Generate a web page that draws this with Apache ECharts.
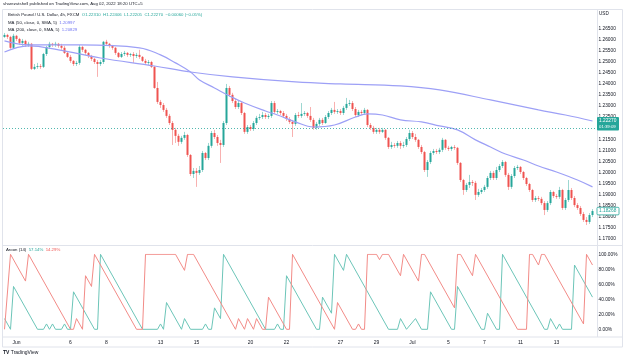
<!DOCTYPE html>
<html><head><meta charset="utf-8">
<script src="https://cdn.jsdelivr.net/npm/echarts@6/dist/echarts.min.js"></script>
<style>html,body{margin:0;padding:0;background:#fff}#c{width:624px;height:360px}</style>
</head><body><div id="c"></div>
<script>
// ---- data (GBPUSD 4h) ----
const open = [1.2611,1.2620,1.2611,1.2562,1.2616,1.2602,1.2584,1.2593,1.2575,1.2580,
1.2467,1.2476,1.2480,1.2476,1.2534,1.2566,1.2580,1.2575,1.2580,1.2571,
1.2562,1.2539,1.2521,1.2503,1.2489,1.2494,1.2566,1.2553,1.2539,1.2525,
1.2512,1.2498,1.2489,1.2498,1.2589,1.2580,1.2571,1.2562,1.2539,1.2521,
1.2534,1.2539,1.2530,1.2534,1.2525,1.2530,1.2521,1.2503,1.2494,1.2498,
1.2476,1.2381,1.2318,1.2304,1.2282,1.2255,1.2223,1.2192,1.2165,1.2138,
1.2156,1.2169,1.2079,1.1993,1.2007,1.1998,1.2011,1.2088,1.2065,1.2120,
1.2178,1.2160,1.2133,1.2124,1.2223,1.2381,1.2350,1.2322,1.2295,1.2313,
1.2268,1.2183,1.2205,1.2196,1.2223,1.2246,1.2250,1.2259,1.2250,1.2255,
1.2313,1.2273,1.2277,1.2268,1.2255,1.2241,1.2228,1.2219,1.2259,1.2255,
1.2264,1.2268,1.2255,1.2237,1.2201,1.2219,1.2237,1.2223,1.2250,1.2268,
1.2282,1.2273,1.2277,1.2268,1.2291,1.2309,1.2313,1.2286,1.2259,1.2273,
1.2268,1.2282,1.2214,1.2201,1.2183,1.2192,1.2183,1.2192,1.2156,1.2115,
1.2124,1.2120,1.2133,1.2120,1.2124,1.2151,1.2178,1.2160,1.2147,1.2115,
1.2092,1.2011,1.2047,1.2088,1.2097,1.2092,1.2102,1.2147,1.2111,1.2106,
1.2115,1.2111,1.2043,1.1966,1.1921,1.1944,1.1957,1.1953,1.1899,1.1912,
1.1921,1.1935,1.1975,1.1998,1.1975,1.2011,1.2029,1.2047,1.1989,1.1935,
1.1984,1.2020,1.2025,1.2002,1.1975,1.1948,1.1921,1.1876,1.1885,1.1881,
1.1862,1.1831,1.1862,1.1912,1.1894,1.1890,1.1921,1.1840,1.1876,1.1921,
1.1885,1.1853,1.1840,1.1813,1.1786,1.1777,1.1808];
const close = [1.2620,1.2611,1.2562,1.2616,1.2602,1.2584,1.2593,1.2575,1.2580,1.2467,
1.2476,1.2480,1.2476,1.2534,1.2566,1.2580,1.2575,1.2580,1.2571,1.2562,
1.2539,1.2521,1.2503,1.2489,1.2494,1.2566,1.2553,1.2539,1.2525,1.2512,
1.2498,1.2489,1.2498,1.2589,1.2580,1.2571,1.2562,1.2539,1.2521,1.2534,
1.2539,1.2530,1.2534,1.2525,1.2530,1.2521,1.2503,1.2494,1.2498,1.2476,
1.2381,1.2318,1.2304,1.2282,1.2255,1.2223,1.2192,1.2165,1.2138,1.2156,
1.2169,1.2079,1.1993,1.2007,1.1998,1.2011,1.2088,1.2065,1.2120,1.2178,
1.2160,1.2133,1.2124,1.2223,1.2381,1.2350,1.2322,1.2295,1.2313,1.2268,
1.2183,1.2205,1.2196,1.2223,1.2246,1.2250,1.2259,1.2250,1.2255,1.2313,
1.2273,1.2277,1.2268,1.2255,1.2241,1.2228,1.2219,1.2259,1.2255,1.2264,
1.2268,1.2255,1.2237,1.2201,1.2219,1.2237,1.2223,1.2250,1.2268,1.2282,
1.2273,1.2277,1.2268,1.2291,1.2309,1.2313,1.2286,1.2259,1.2273,1.2268,
1.2282,1.2214,1.2201,1.2183,1.2192,1.2183,1.2192,1.2156,1.2115,1.2124,
1.2120,1.2133,1.2120,1.2124,1.2151,1.2178,1.2160,1.2147,1.2115,1.2092,
1.2011,1.2047,1.2088,1.2097,1.2092,1.2102,1.2147,1.2111,1.2106,1.2115,
1.2111,1.2043,1.1966,1.1921,1.1944,1.1957,1.1953,1.1899,1.1912,1.1921,
1.1935,1.1975,1.1998,1.1975,1.2011,1.2029,1.2047,1.1989,1.1935,1.1984,
1.2020,1.2025,1.2002,1.1975,1.1948,1.1921,1.1876,1.1885,1.1881,1.1862,
1.1831,1.1862,1.1912,1.1894,1.1890,1.1921,1.1840,1.1876,1.1921,1.1885,
1.1853,1.1840,1.1813,1.1786,1.1777,1.1808,1.1826];
const high = [1.2629,1.2625,1.2616,1.2625,1.2620,1.2607,1.2602,1.2598,1.2589,1.2584,
1.2489,1.2494,1.2489,1.2539,1.2571,1.2589,1.2584,1.2589,1.2584,1.2580,
1.2571,1.2543,1.2530,1.2507,1.2503,1.2575,1.2571,1.2557,1.2543,1.2530,
1.2516,1.2507,1.2507,1.2593,1.2598,1.2584,1.2575,1.2566,1.2543,1.2543,
1.2548,1.2543,1.2539,1.2543,1.2539,1.2553,1.2525,1.2512,1.2507,1.2503,
1.2480,1.2408,1.2327,1.2313,1.2291,1.2264,1.2232,1.2201,1.2174,1.2165,
1.2183,1.2174,1.2083,1.2020,1.2020,1.2029,1.2097,1.2092,1.2133,1.2187,
1.2192,1.2169,1.2147,1.2232,1.2399,1.2390,1.2359,1.2332,1.2322,1.2318,
1.2273,1.2214,1.2214,1.2232,1.2255,1.2264,1.2273,1.2268,1.2264,1.2322,
1.2322,1.2286,1.2282,1.2277,1.2264,1.2250,1.2237,1.2268,1.2273,1.2313,
1.2277,1.2273,1.2295,1.2246,1.2228,1.2246,1.2246,1.2259,1.2277,1.2291,
1.2318,1.2286,1.2286,1.2300,1.2336,1.2327,1.2322,1.2295,1.2282,1.2282,
1.2291,1.2286,1.2223,1.2210,1.2201,1.2201,1.2201,1.2196,1.2160,1.2138,
1.2133,1.2142,1.2142,1.2138,1.2160,1.2192,1.2187,1.2174,1.2151,1.2124,
1.2097,1.2056,1.2097,1.2106,1.2106,1.2111,1.2156,1.2151,1.2120,1.2120,
1.2124,1.2115,1.2047,1.1971,1.1953,1.1989,1.1966,1.1962,1.1926,1.1930,
1.1944,1.1984,1.2007,1.2007,1.2025,1.2038,1.2056,1.2052,1.1998,1.1993,
1.2029,1.2034,1.2029,1.2007,1.1980,1.1953,1.1926,1.1894,1.1894,1.1890,
1.1871,1.1871,1.1921,1.1917,1.1903,1.1935,1.1926,1.1885,1.1966,1.1930,
1.1894,1.1862,1.1849,1.1822,1.1799,1.1817,1.1835];
const low = [1.2607,1.2602,1.2557,1.2557,1.2593,1.2575,1.2571,1.2566,1.2566,1.2462,
1.2462,1.2467,1.2467,1.2471,1.2525,1.2557,1.2566,1.2566,1.2562,1.2553,
1.2534,1.2516,1.2494,1.2480,1.2480,1.2485,1.2543,1.2530,1.2516,1.2503,
1.2489,1.2431,1.2480,1.2489,1.2575,1.2562,1.2553,1.2530,1.2516,1.2516,
1.2525,1.2521,1.2521,1.2494,1.2516,1.2512,1.2498,1.2485,1.2485,1.2471,
1.2377,1.2309,1.2291,1.2273,1.2246,1.2214,1.2124,1.2133,1.2120,1.2129,
1.2147,1.2070,1.1984,1.1975,1.1935,1.1989,1.2002,1.2056,1.2056,1.2111,
1.2151,1.2120,1.2043,1.2115,1.2214,1.2341,1.2313,1.2286,1.2286,1.2259,
1.2174,1.2174,1.2187,1.2187,1.2214,1.2237,1.2241,1.2241,1.2241,1.2246,
1.2264,1.2264,1.2259,1.2246,1.2232,1.2219,1.2160,1.2210,1.2246,1.2246,
1.2255,1.2246,1.2228,1.2192,1.2192,1.2210,1.2214,1.2219,1.2241,1.2259,
1.2264,1.2264,1.2259,1.2259,1.2282,1.2300,1.2277,1.2250,1.2250,1.2259,
1.2259,1.2205,1.2192,1.2174,1.2174,1.2174,1.2178,1.2147,1.2106,1.2106,
1.2111,1.2111,1.2106,1.2111,1.2115,1.2142,1.2151,1.2138,1.2106,1.2083,
1.2002,1.1980,1.2038,1.2079,1.2083,1.2083,1.2092,1.2102,1.2097,1.2097,
1.2102,1.2034,1.1957,1.1899,1.1912,1.1930,1.1939,1.1876,1.1890,1.1903,
1.1912,1.1926,1.1966,1.1966,1.1966,1.2002,1.2020,1.1980,1.1921,1.1926,
1.1975,1.2011,1.1993,1.1966,1.1939,1.1912,1.1867,1.1867,1.1871,1.1853,
1.1808,1.1822,1.1853,1.1885,1.1881,1.1881,1.1831,1.1831,1.1867,1.1876,
1.1844,1.1831,1.1804,1.1777,1.1763,1.1768,1.1799];

// moving averages (bar index, value)
const ma50Pts = [[0,1.2593],[8,1.2575],[25,1.2575],[45,1.2562],[52,1.2530],[57,1.2494],[62,1.2453],[65,1.2417],[70,1.2381],[75,1.2345],[80,1.2313],[87,1.2277],[91,1.2259],[97,1.2228],[103,1.2205],[110,1.2214],[117,1.2250],[121,1.2264],[126,1.2259],[132,1.2237],[139,1.2228],[145,1.2210],[151,1.2192],[157,1.2147],[162,1.2115],[167,1.2083],[173,1.2056],[178,1.2029],[184,1.2002],[191,1.1966],[196,1.1935]];
const ma200Pts = [[0,1.2543],[8,1.2571],[18,1.2553],[32,1.2516],[50,1.2480],[62,1.2453],[76,1.2431],[97,1.2408],[112,1.2399],[132,1.2390],[145,1.2372],[162,1.2327],[178,1.2282],[187,1.2259],[196,1.2232]];

// Aroon (14) vertices (bar index, %)
const aroonUpPts = [[0,14.29],[2,0],[3,57.14],[11,0],[13,0],[14,7.14],[15,0],[16,7.14],[17,0],[19,0],[20,7.14],[21,0],[22,0],[23,50],[30,0],[31,0],[32,100],[46,0],[51,0],[52,7.14],[53,0],[54,35.71],[59,0],[60,14.29],[62,0],[66,0],[67,7.14],[68,0],[69,0],[70,28.57],[72,14.29],[73,100],[87,0],[90,0],[91,7.14],[92,0],[93,0],[94,71.43],[104,0],[105,0],[106,42.86],[109,21.43],[110,100],[113,78.57],[114,100],[128,0],[131,0],[132,14.29],[134,0],[137,14.29],[139,0],[141,0],[142,50],[149,0],[150,0],[151,57.14],[159,0],[160,0],[161,21.43],[164,0],[165,0],[166,100],[180,0],[181,0],[182,14.29],[184,0],[185,7.14],[186,0],[189,0],[190,85.71],[196,42.86]];
const aroonDownPts = [[0,0],[2,100],[7,64.29],[8,100],[22,0],[23,0],[24,14.29],[26,0],[27,71.43],[29,57.14],[30,100],[44,0],[46,0],[47,100],[57,100],[60,78.57],[61,100],[63,100],[77,0],[78,14.29],[80,0],[81,14.29],[83,0],[84,14.29],[86,0],[87,0],[88,42.86],[94,0],[95,0],[96,100],[110,0],[111,35.71],[116,0],[117,0],[118,7.14],[119,0],[120,0],[121,100],[124,100],[125,92.86],[126,100],[128,100],[132,71.43],[133,100],[138,64.29],[139,100],[140,100],[150,28.57],[151,100],[152,100],[156,71.43],[157,100],[171,0],[174,0],[175,100],[176,100],[178,85.71],[179,100],[180,100],[193,7.14],[194,100],[196,85.71]];

// time axis tick labels (bar index -> text)
const tickBars = [4,22,34,52,64,82,94,112,124,136,148,160,172,184];
const tickText = ['Jun','6','8','13','15','20','22','27','29','Jul','5','7','11','13'];

const lastPrice = 1.2227, lastPriceText = '1.22270', countdownText = '01:39:09';
const visClose = 1.18268, visCloseText = '1.18268';

// ---- chart ----
const UP = '#26a69a', DN = '#ef5350';
const FONT = 'Liberation Sans, Arial, sans-serif';
const cats = close.map((_, i) => String(i)).concat(['']);
const fullData = open.map((o, i) => [o, close[i], low[i], high[i]]);
const bodyData = open.map((o, i) => [o, close[i], Math.min(o, close[i]), Math.max(o, close[i])]);

const chart = echarts.init(document.getElementById('c'), null, {renderer: 'canvas'});
const option = {
  animation: false,
  backgroundColor: '#ffffff',
  textStyle: {fontFamily: FONT},
  grid: [
    {left: 3, width: 594, top: 6.1, height: 244},
    {left: 3, width: 594, top: 254.3, height: 90}
  ],
  xAxis: [
    {gridIndex: 0, type: 'category', data: cats, show: false, boundaryGap: true},
    {gridIndex: 1, type: 'category', data: cats, boundaryGap: true, offset: -7.6,
     axisLine: {show: false}, axisTick: {show: false}, splitLine: {show: false},
     axisLabel: {interval: (idx) => tickBars.indexOf(idx) >= 0,
       formatter: (v, idx) => { const k = tickBars.indexOf(idx); return k >= 0 ? tickText[k] : ''; },
       fontSize: 5, color: '#131722', margin: 3, fontFamily: FONT}}
  ],
  yAxis: [
    {gridIndex: 0, type: 'value', position: 'right', min: 1.165, max: 1.275, interval: 0.005,
     axisLine: {show: false}, axisTick: {show: false}, splitLine: {show: false},
     axisLabel: {margin: 1.5, fontSize: 4.8, color: '#131722', fontFamily: FONT,
       formatter: v => (v > 1.2655 || v < 1.1695) ? '' : v.toFixed(5)}},
    {gridIndex: 1, type: 'value', position: 'right', min: -20, max: 100, interval: 20,
     axisLine: {show: false}, axisTick: {show: false}, splitLine: {show: false},
     axisLabel: {margin: 1.5, fontSize: 4.8, color: '#131722', fontFamily: FONT,
       formatter: v => v < 0 ? '' : v.toFixed(2) + '%'}}
  ],
  series: [
    {type: 'candlestick', xAxisIndex: 0, yAxisIndex: 0, data: fullData, barWidth: 1,
     itemStyle: {color: 'rgba(38,166,154,0.45)', color0: 'rgba(239,83,80,0.45)',
       borderColor: 'rgba(38,166,154,0.45)', borderColor0: 'rgba(239,83,80,0.45)', borderWidth: 1}},
    {type: 'candlestick', xAxisIndex: 0, yAxisIndex: 0, data: bodyData, barWidth: 2,
     itemStyle: {color: UP, color0: DN, borderColor: UP, borderColor0: DN, borderWidth: 0},
     markLine: {silent: true, symbol: ['none', 'none'], label: {show: false},
       lineStyle: {color: UP, type: [1, 2], width: 1, opacity: 0.8},
       data: [{yAxis: lastPrice}]}},
    {type: 'line', name: 'MA50', xAxisIndex: 0, yAxisIndex: 0, data: ma50Pts, smooth: 0.4,
     showSymbol: false, lineStyle: {color: '#9da0f6', width: 1.2}},
    {type: 'line', name: 'MA200', xAxisIndex: 0, yAxisIndex: 0, data: ma200Pts, smooth: 0.4,
     showSymbol: false, lineStyle: {color: '#9da0f6', width: 1.2}},
    {type: 'line', name: 'Aroon Up', xAxisIndex: 1, yAxisIndex: 1, data: aroonUpPts,
     showSymbol: false, lineStyle: {color: '#6cc5b8', width: 1}},
    {type: 'line', name: 'Aroon Down', xAxisIndex: 1, yAxisIndex: 1, data: aroonDownPts,
     showSymbol: false, lineStyle: {color: '#f28b87', width: 1}}
  ]
};
chart.setOption(option);

const yLast = chart.convertToPixel({yAxisIndex: 0}, lastPrice);
const yVis = chart.convertToPixel({yAxisIndex: 0}, visClose);
const LC = '#e0e3eb';
const txt = (x, y, text, size, fill, extra) => Object.assign({type: 'text', z: 100, silent: true,
  style: {x, y, text, fontSize: size, fill, fontFamily: FONT, verticalAlign: 'middle'}}, extra || {});

chart.setOption({graphic: [
  {type: 'rect', z: 50, silent: true, shape: {x: 2.5, y: 9.5, width: 620, height: 337.5}, style: {fill: 'none', stroke: LC, lineWidth: 1}},
  {type: 'line', z: 50, silent: true, shape: {x1: 597.5, y1: 9.5, x2: 597.5, y2: 337}, style: {stroke: LC, lineWidth: 1}},
  {type: 'line', z: 50, silent: true, shape: {x1: 2.5, y1: 245.5, x2: 622.5, y2: 245.5}, style: {stroke: LC, lineWidth: 1}},
  {type: 'line', z: 50, silent: true, shape: {x1: 2.5, y1: 337, x2: 622.5, y2: 337}, style: {stroke: LC, lineWidth: 1}},
  txt(3, 4.2, 'sharezutshell published on TradingView.com, Aug 02, 2022 18:20 UTC+5', 4.3, '#131722'),
  {type: 'text', z: 100, silent: true, style: {x: 8, y: 15.2, fontSize: 4.3, fontFamily: FONT, verticalAlign: 'middle',
    text: '{a|British Pound / U.S. Dollar, 4h, FXCM}  {b|O1.22310  H1.22406  L1.22205  C1.22270  \u22120.00060 (\u22120.05%)}',
    rich: {a: {fill: '#131722', fontSize: 4.3, fontFamily: FONT}, b: {fill: UP, fontSize: 4.3, fontFamily: FONT}}}},
  {type: 'text', z: 100, silent: true, style: {x: 8, y: 22.4, fontSize: 4.3, fontFamily: FONT, verticalAlign: 'middle',
    text: '{a|MA (50, close, 0, SMA, 5)}  {b|1.20997}',
    rich: {a: {fill: '#131722', fontSize: 4.3, fontFamily: FONT}, b: {fill: '#6f73f2', fontSize: 4.3, fontFamily: FONT}}}},
  {type: 'text', z: 100, silent: true, style: {x: 8, y: 29.4, fontSize: 4.3, fontFamily: FONT, verticalAlign: 'middle',
    text: '{a|MA (200, close, 0, SMA, 5)}  {b|1.20829}',
    rich: {a: {fill: '#131722', fontSize: 4.3, fontFamily: FONT}, b: {fill: '#6f73f2', fontSize: 4.3, fontFamily: FONT}}}},
  {type: 'text', z: 100, silent: true, style: {x: 6, y: 250.2, fontSize: 4.3, fontFamily: FONT, verticalAlign: 'middle',
    text: '{a|Aroon (14)}  {b|57.14%}  {c|14.29%}',
    rich: {a: {fill: '#131722', fontSize: 4.3, fontFamily: FONT}, b: {fill: UP, fontSize: 4.3, fontFamily: FONT}, c: {fill: DN, fontSize: 4.3, fontFamily: FONT}}}},
  txt(599, 14, 'USD', 4.6, '#131722'),
  {type: 'rect', z: 90, silent: true, shape: {x: 597, y: yLast - 5, width: 22, height: 13.5, r: 1}, style: {fill: UP}},
  txt(599, yLast - 1.2, lastPriceText, 4.8, '#ffffff', {z: 101}),
  txt(599, yLast + 4.6, countdownText, 4.3, '#ffffff', {z: 101}),
  {type: 'rect', z: 90, silent: true, shape: {x: 597, y: yVis - 3.6, width: 22, height: 7.6, r: 1}, style: {fill: '#ffffff', stroke: UP, lineWidth: 0.8}},
  txt(599, yVis + 0.2, visCloseText, 4.8, UP, {z: 101}),
  {type: 'text', z: 100, silent: true, style: {x: 3, y: 352.5, fontSize: 5, fontFamily: FONT, verticalAlign: 'middle',
    text: '{l|TV} {t|TradingView}',
    rich: {l: {fill: '#131722', fontSize: 5, fontWeight: 'bold', fontFamily: FONT}, t: {fill: '#131722', fontSize: 5, fontFamily: FONT}}}}
]});
</script>
</body></html>
